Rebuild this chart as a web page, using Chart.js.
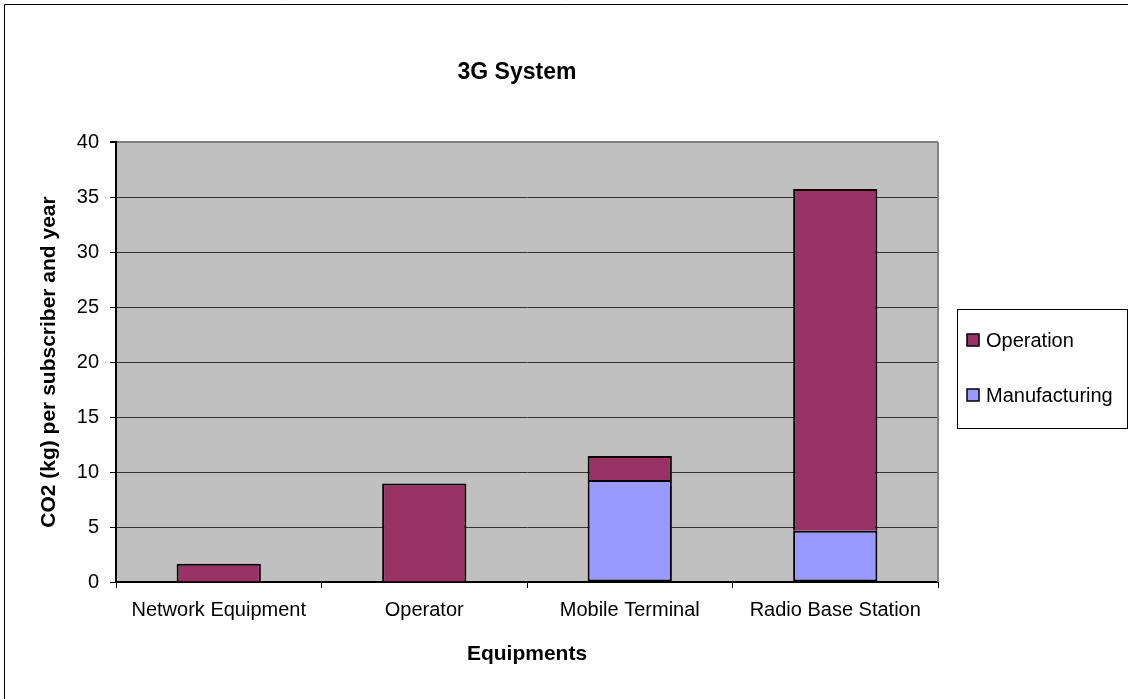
<!DOCTYPE html>
<html>
<head>
<meta charset="utf-8">
<script src="https://cdn.jsdelivr.net/npm/chart.js@4"></script>
<style>
  html, body { margin: 0; padding: 0; background: #fff; }
  canvas { display: block; }
</style>
</head>
<body>
<canvas id="c" width="1128" height="699"></canvas>
<script>
const chartTitle = '3G System';
const categories = ['Network Equipment', 'Operator', 'Mobile Terminal', 'Radio Base Station'];
const manufacturing = [null, null, 9.27, 4.66];
const operation = [1.65, 8.95, 2.18, 31.07];
const yTicksMin = 0;
const yTicksMax = 40;
const yTicksStep = 5;
const yAxisTitle = 'CO2 (kg) per subscriber and year';
const xAxisTitle = 'Equipments';

const FONT = '"Liberation Sans", Arial, sans-serif';

const framePlugin = {
  id: 'frame',
  beforeDraw(chart) {
    const {ctx, chartArea: a} = chart;
    ctx.save();
    ctx.fillStyle = '#ffffff';
    ctx.fillRect(0, 0, chart.width, chart.height);
    ctx.fillStyle = '#C0C0C0';
    ctx.fillRect(a.left, a.top, a.right - a.left, a.bottom - a.top);
    ctx.restore();
  },
  afterDatasetsDraw(chart) {
    const {ctx, chartArea: a} = chart;
    ctx.save();
    ctx.strokeStyle = '#808080';
    ctx.lineWidth = 2;
    ctx.beginPath();
    ctx.moveTo(a.right, a.top);
    ctx.lineTo(a.right, a.bottom);
    ctx.stroke();
    ctx.restore();
  },
  afterDraw(chart) {
    const {ctx} = chart;
    ctx.save();
    ctx.strokeStyle = '#000';
    ctx.lineWidth = 1;
    ctx.beginPath();
    ctx.moveTo(4.5, chart.height + 2);
    ctx.lineTo(4.5, 4.5);
    ctx.lineTo(chart.width + 2, 4.5);
    ctx.stroke();

    ctx.fillStyle = '#000';
    ctx.font = 'bold 23px ' + FONT;
    ctx.textAlign = 'center';
    ctx.textBaseline = 'middle';
    ctx.fillText(chartTitle, 517, 73);

    const bx = 957.5, by = 309.5, bw = 170, bh = 119;
    ctx.fillStyle = '#fff';
    ctx.fillRect(bx, by, bw, bh);
    ctx.strokeStyle = '#000';
    ctx.lineWidth = 1;
    ctx.strokeRect(bx, by, bw, bh);
    const items = chart.data.datasets.slice().reverse();
    const ys = [340, 395];
    ctx.font = '20px ' + FONT;
    ctx.textAlign = 'left';
    items.forEach((ds, i) => {
      const y = ys[i];
      ctx.fillStyle = ds.backgroundColor;
      ctx.fillRect(967, y - 6, 12, 12);
      ctx.lineWidth = 1.5;
      ctx.strokeStyle = '#000';
      ctx.strokeRect(967, y - 6, 12, 12);
      ctx.fillStyle = '#000';
      ctx.fillText(ds.label, 986, y + 1);
    });
    ctx.restore();
  }
};

new Chart(document.getElementById('c'), {
  type: 'bar',
  data: {
    labels: categories,
    datasets: [
      {
        label: 'Manufacturing',
        data: manufacturing,
        backgroundColor: '#9999FF',
        borderColor: '#000',
        borderWidth: 2,
        borderSkipped: false,
        categoryPercentage: 1,
        barPercentage: 0.41
      },
      {
        label: 'Operation',
        data: operation,
        backgroundColor: '#993366',
        borderColor: '#000',
        borderWidth: 2,
        borderSkipped: 'start',
        categoryPercentage: 1,
        barPercentage: 0.41
      }
    ]
  },
  options: {
    responsive: false,
    devicePixelRatio: 1,
    animation: false,
    layout: { padding: { top: 142, right: 190, bottom: 0, left: 0 } },
    plugins: {
      legend: { display: false },
      title: { display: false },
      tooltip: { enabled: false }
    },
    scales: {
      x: {
        stacked: true,
        grid: {
          display: true,
          drawOnChartArea: false,
          drawTicks: true,
          tickLength: 6,
          color: '#000',
          offset: true
        },
        border: { display: true, color: '#000', width: 2 },
        ticks: {
          color: '#000',
          font: { family: FONT, size: 20 },
          padding: 10,
          maxRotation: 0,
          autoSkip: false
        },
        title: {
          display: true,
          text: xAxisTitle,
          color: '#000',
          font: { family: FONT, size: 21, weight: 'bold' },
          padding: { top: 0, bottom: 32 }
        },
        afterFit(scale) { scale.height = 117; }
      },
      y: {
        stacked: true,
        min: yTicksMin,
        max: yTicksMax,
        ticks: {
          stepSize: yTicksStep,
          color: '#000',
          font: { family: FONT, size: 20 },
          padding: 11
        },
        grid: {
          color: (c) => (c.tick && c.tick.value === yTicksMax) ? '#808080' : '#333333',
          lineWidth: (c) => (c.tick && c.tick.value === yTicksMax) ? 2 : 1,
          tickColor: '#000',
          tickLength: 6,
          drawTicks: true
        },
        border: { display: true, color: '#000', width: 2 },
        title: {
          display: true,
          text: yAxisTitle,
          color: '#000',
          font: { family: FONT, size: 21, weight: 'bold' },
          padding: { top: 37, bottom: 0 }
        },
        afterFit(scale) { scale.width = 116; }
      }
    }
  },
  plugins: [framePlugin]
});
</script>
</body>
</html>
